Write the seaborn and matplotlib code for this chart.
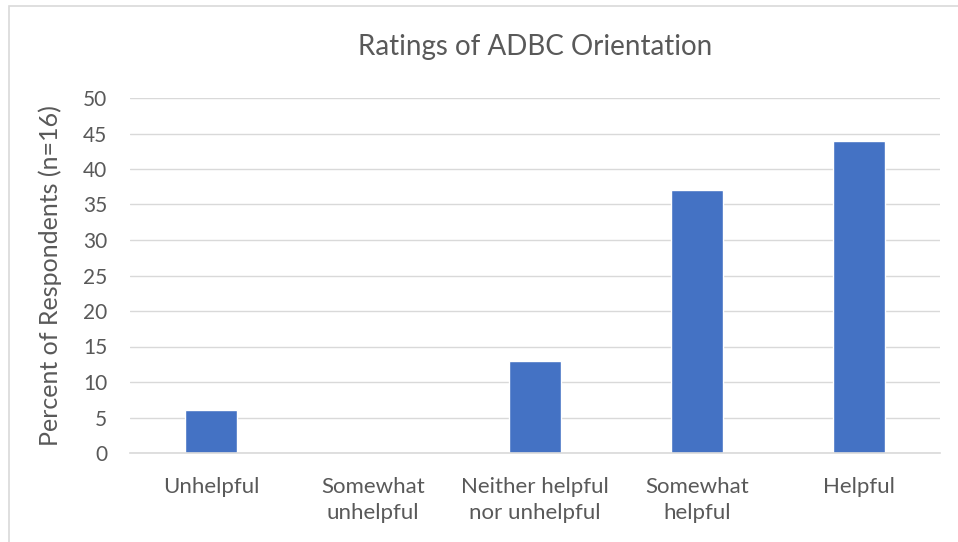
import matplotlib
matplotlib.use("Agg")
import matplotlib.pyplot as plt
import seaborn as sns
import pandas as pd
from matplotlib.patches import Rectangle

categories = ["Unhelpful", "Somewhat\nunhelpful", "Neither helpful\nnor unhelpful", "Somewhat\nhelpful", "Helpful"]
values = [6, 0, 13, 37, 44]
yticks = [0, 5, 10, 15, 20, 25, 30, 35, 40, 45, 50]

df = pd.DataFrame({"cat": categories, "val": values})

sns.set_theme(style="white")
plt.rcParams['font.family'] = ['Lato', 'DejaVu Sans']

fig = plt.figure(figsize=(9.58, 5.42), dpi=100)
ax = fig.add_axes([130/958, 1-453/542, 810/958, (453-98)/542])

sns.barplot(data=df, x="cat", y="val", color="#4472C4", width=0.315, ax=ax, saturation=1)

ax.set_ylim(0, 50)
ax.set_xlim(-0.5, 4.5)
ax.set_yticks(yticks)
ax.set_yticklabels([str(t) for t in yticks])
ax.yaxis.grid(True, color="#d9d9d9", linewidth=1)
ax.set_axisbelow(True)
for s in ["top", "right", "left"]:
    ax.spines[s].set_visible(False)
ax.spines["bottom"].set_color("#d9d9d9")
ax.spines["bottom"].set_linewidth(1.2)
ax.tick_params(axis="y", length=0, labelsize=15, colors="#595959", pad=16.5)
ax.tick_params(axis="x", length=0, labelsize=16, colors="#595959", pad=17)
for lbl in ax.get_xticklabels():
    lbl.set_linespacing(1.42)
ax.set_xlabel("")
ax.set_ylabel("Percent of Respondents (n=16)", fontsize=18, color="#595959", labelpad=15)
ax.set_title("Ratings of ADBC Orientation", fontsize=20, color="#595959", pad=31)

fig.patches.append(Rectangle((9/958, -0.05), 1.1, 1 - 6/542 + 0.05, transform=fig.transFigure,
                             fill=False, edgecolor="#d9d9d9", linewidth=1.2))

fig.savefig("out.png", dpi=100)
